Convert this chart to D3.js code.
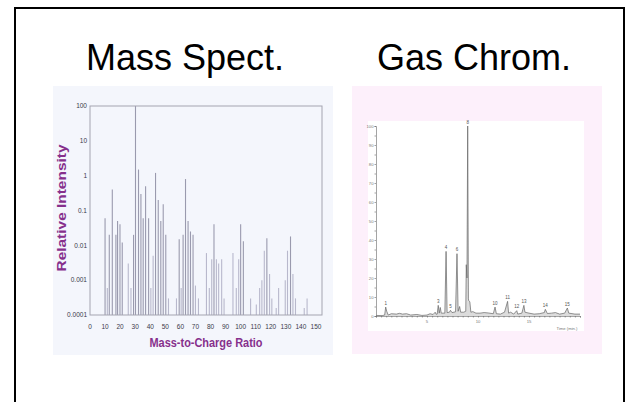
<!DOCTYPE html>
<html>
<head>
<meta charset="utf-8">
<title>Mass Spect. / Gas Chrom.</title>
<script src="https://cdn.jsdelivr.net/npm/d3@7"></script>
<style>
  body { margin: 0; background: #fff; }
  svg { display: block; font-family: "Liberation Sans", Arial, sans-serif; }
</style>
</head>
<body>
<script>
  const width = 626, height = 402;

  const titles = ["Mass Spect.", "Gas Chrom."];

  // mass spectrum
  const msMass = [10, 11.5, 12.8, 14.8, 17.2, 18.3, 19.9, 21.4,
    25.4, 27.2, 28.9, 30.2, 32.2, 33.8, 35.3, 36.9, 38.9, 40.4, 41.9, 43.5, 45.3, 47, 48.6, 50.3, 52.1,
    57.4, 59.2, 60.5, 61.8, 63.4, 65.1, 66.7, 68.4, 70, 72,
    77.3, 79.2, 80.8, 82.3, 83.9, 85.4, 87.4, 89,
    94.9, 97.1, 98.7, 100, 101.8, 106.6,
    110.4, 112.6, 114.1, 115.7, 117.4, 119.2, 120.7, 123.6, 125.2,
    129.6, 131.1, 133.1, 134.7, 136.4, 142.2, 144.1];
  const msIntensity = [0.06, 0.0006, 0.02, 0.4, 0.02, 0.05, 0.04, 0.012,
    0.003, 0.0006, 0.02, 100, 1.5, 0.3, 0.06, 0.5, 0.06, 0.0006, 0.005, 1.2, 0.2, 0.05, 0.15, 0.02, 0.0003,
    0.0003, 0.015, 0.0006, 0.02, 0.8, 0.05, 0.025, 0.02, 0.0007, 0.0003,
    0.006, 0.0006, 0.004, 0.04, 0.004, 0.003, 0.004, 0.0003,
    0.006, 0.0006, 0.004, 0.04, 0.013, 0.0003,
    0.0002, 0.0006, 0.001, 0.007, 0.016, 0.0015, 0.0003, 0.00016, 0.0006,
    0.001, 0.007, 0.018, 0.0015, 0.0003, 0.00016, 0.0003];
  const msYTicks = [100, 10, 1, 0.1, 0.01, 0.001, 0.0001];
  const msYLabels = ["100", "10", "1", "0.1", "0.01", "0.001", "0.0001"];
  const msXTicks = [0, 10, 20, 30, 40, 50, 60, 70, 80, 90, 100, 110, 120, 130, 140, 150];

  // chromatogram trace (time in min, signal in %)
  const gcTime = [0, 0.6, 0.85, 0.95, 1.05, 1.2, 1.5, 2.0, 2.3, 2.6, 3.0, 3.4, 4.0, 4.5, 5.0, 5.3, 5.6, 5.8, 5.9,
    6.0, 6.1, 6.2, 6.3, 6.4, 6.75, 6.87, 6.97, 7.2, 7.3, 7.45, 7.8, 7.94, 8.05, 8.2, 8.3, 8.6, 8.8, 8.85, 8.92,
    8.99, 9.06, 9.1, 9.2, 9.3, 9.5, 9.8, 10.2, 10.6, 11.0, 11.5, 11.67, 11.8, 12.2, 12.6, 12.9, 13.0, 13.2,
    13.5, 13.8, 13.9, 14.3, 14.5, 14.6, 15.0, 15.5, 16.0, 16.5, 16.6, 16.8, 17.2, 17.6, 18.0, 18.5, 18.76,
    18.9, 19.5, 20];
  const gcSignal = [0.3, 0.2, 0.5, 4.7, 2.5, 0.5, 1.2, 1.0, 1.4, 1.0, 1.2, 0.5, 0.8, 0.3, 0.5, 1.2, 0.8, 2.0, 0.9,
    1.0, 5.6, 1.5, 4.5, 1.5, 1.5, 34, 1.8, 2.0, 3.0, 1.8, 2.2, 32.8, 2.5, 5.0, 2.0, 2.0, 2.5, 27, 20,
    100, 9, 8, 7.5, 2.0, 2.3, 1.5, 1.5, 1.8, 1.6, 1.2, 4.7, 1.2, 1.0, 2.0, 7.7, 1.5, 2.0,
    1.0, 2.8, 1.0, 1.5, 5.6, 2.0, 1.5, 1.0, 1.2, 1.8, 3.5, 1.3, 1.5, 1.8, 1.0, 1.5, 4.2,
    1.5, 1.0, 1.0];
  const gcPeakLabels = ["1", "3", "4", "5", "6", "8", "10", "11", "12", "13", "14", "15"];
  const gcPeakTimes = [0.95, 6.1, 6.87, 7.3, 7.94, 8.99, 11.67, 12.9, 13.8, 14.5, 16.6, 18.76];
  const gcPeakHeights = [4.7, 5.6, 34, 3.0, 32.8, 100, 4.7, 7.7, 2.8, 5.6, 3.5, 4.2];
  const gcYTicks = [0, 10, 20, 30, 40, 50, 60, 70, 80, 90, 100];
  const gcXTicks = [5, 10, 15];

  const svg = d3.select("body").append("svg")
    .attr("width", width).attr("height", height);

  // slide frame
  svg.append("rect")
    .attr("x", 15).attr("y", 8).attr("width", 609).attr("height", 420)
    .attr("fill", "none").attr("stroke", "#000").attr("stroke-width", 2);

  svg.selectAll("text.title")
    .data(titles)
    .join("text")
    .attr("class", "title")
    .attr("x", (d, i) => [185, 474][i])
    .attr("y", 70)
    .attr("text-anchor", "middle")
    .attr("font-size", 36)
    .attr("fill", "#000")
    .text(d => d);

  // ---------- mass spectrum ----------
  const ms = svg.append("g");
  ms.append("rect").attr("x", 53).attr("y", 86).attr("width", 280).attr("height", 269)
    .attr("fill", "#f4f6fc");

  const x = d3.scaleLinear().domain([0, 154]).range([90, 322]);
  const y = d3.scaleLog().domain([1e-4, 100]).range([315, 106]);

  ms.selectAll("line.bar")
    .data(msMass)
    .join("line")
    .attr("class", "bar")
    .attr("x1", d => x(d)).attr("x2", d => x(d))
    .attr("y1", y(1e-4))
    .attr("y2", (d, i) => y(msIntensity[i]))
    .attr("stroke", (d, i) => msIntensity[i] > 0.01 ? "#9a9aae" : "#b8b8cc")
    .attr("stroke-width", 1.1);

  ms.append("rect")
    .attr("x", x.range()[0]).attr("y", y.range()[1])
    .attr("width", x.range()[1] - x.range()[0])
    .attr("height", y.range()[0] - y.range()[1])
    .attr("fill", "none").attr("stroke", "#a4a4b0").attr("stroke-width", 1);

  ms.selectAll("text.ytick")
    .data(msYTicks)
    .join("text")
    .attr("class", "ytick")
    .attr("x", 87).attr("y", d => y(d) + 2.3)
    .attr("text-anchor", "end")
    .attr("font-size", 6.5)
    .attr("fill", "#3a3a4a")
    .text((d, i) => msYLabels[i]);

  ms.selectAll("text.xtick")
    .data(msXTicks)
    .join("text")
    .attr("class", "xtick")
    .attr("x", d => x(d)).attr("y", 329)
    .attr("text-anchor", "middle")
    .attr("font-size", 6.5)
    .attr("fill", "#3a3a4a")
    .text(d => d);

  ms.append("text")
    .attr("x", 206).attr("y", 347)
    .attr("text-anchor", "middle")
    .attr("font-size", 13).attr("font-weight", "bold")
    .attr("textLength", 113).attr("lengthAdjust", "spacingAndGlyphs")
    .attr("fill", "#86308c")
    .text("Mass-to-Charge Ratio");

  ms.append("text")
    .attr("transform", "translate(66,208) rotate(-90)")
    .attr("text-anchor", "middle")
    .attr("font-size", 13).attr("font-weight", "bold")
    .attr("textLength", 127).attr("lengthAdjust", "spacingAndGlyphs")
    .attr("fill", "#86308c")
    .text("Relative Intensity");

  // ---------- gas chromatogram ----------
  const gc = svg.append("g");
  gc.append("rect").attr("x", 352).attr("y", 86).attr("width", 250).attr("height", 268)
    .attr("fill", "#fdf0fb");
  gc.append("rect").attr("x", 368).attr("y", 121).attr("width", 216).attr("height", 210)
    .attr("fill", "#fff");

  const gx = d3.scaleLinear().domain([0, 20]).range([376, 580]);
  const gy = d3.scaleLinear().domain([0, 100]).range([316, 126]);

  const yAx = gc.append("g").attr("transform", `translate(${gx(0)},0)`)
    .call(d3.axisLeft(gy).tickValues(d3.range(0, 101, 5)).tickSize(1.5).tickFormat(""));
  yAx.selectAll("path, line").attr("stroke", "#666").attr("stroke-width", 0.6);
  gc.selectAll("text.gyt")
    .data(gcYTicks)
    .join("text")
    .attr("class", "gyt")
    .attr("x", 373.5).attr("y", d => gy(d) + 1.5)
    .attr("text-anchor", "end")
    .attr("font-size", 4.2).attr("fill", "#777")
    .text(d => d);

  const xAx = gc.append("g").attr("transform", `translate(0,${gy(0)})`)
    .call(d3.axisBottom(gx).tickValues(d3.range(0, 20.01, 0.5)).tickSize(1.5).tickFormat(""));
  xAx.selectAll("path, line").attr("stroke", "#666").attr("stroke-width", 0.6);
  gc.selectAll("text.gxt")
    .data(gcXTicks)
    .join("text")
    .attr("class", "gxt")
    .attr("x", d => gx(d)).attr("y", 323)
    .attr("text-anchor", "middle")
    .attr("font-size", 4.2).attr("fill", "#777")
    .text(d => d);
  gc.append("text")
    .attr("x", 567).attr("y", 330)
    .attr("text-anchor", "middle")
    .attr("font-size", 4.2).attr("fill", "#777")
    .text("Time (min.)");

  const trace = d3.line()
    .x((d, i) => gx(gcTime[i]))
    .y(d => gy(d));
  const area = d3.area()
    .x((d, i) => gx(gcTime[i]))
    .y0(gy(0))
    .y1(d => gy(d));
  gc.append("path").attr("d", area(gcSignal)).attr("fill", "#dcdcdc");
  gc.append("path").attr("d", trace(gcSignal))
    .attr("fill", "none").attr("stroke", "#666").attr("stroke-width", 0.7);

  gc.selectAll("text.pk")
    .data(gcPeakLabels)
    .join("text")
    .attr("class", "pk")
    .attr("x", (d, i) => gx(gcPeakTimes[i]))
    .attr("y", (d, i) => gy(gcPeakHeights[i]) - 2.5)
    .attr("text-anchor", "middle")
    .attr("font-size", 4.5).attr("fill", "#555")
    .text(d => d);
</script>
</body>
</html>
